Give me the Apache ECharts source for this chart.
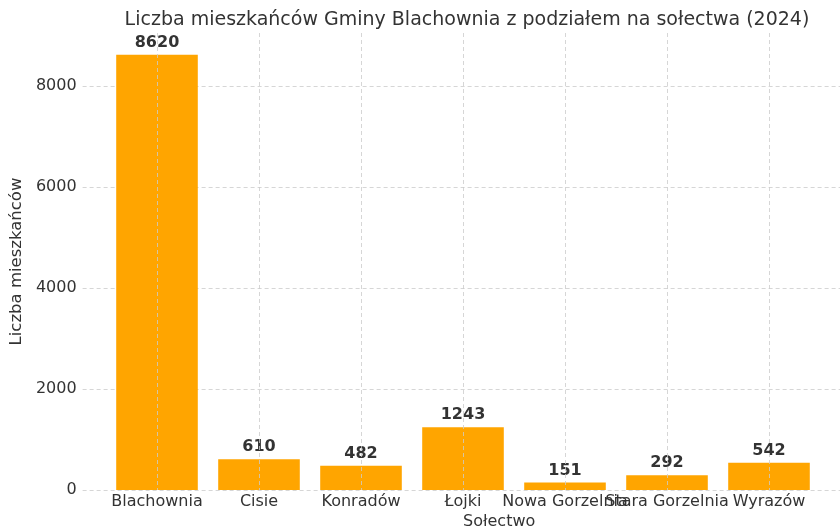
<!DOCTYPE html>
<html>
<head>
<meta charset="utf-8">
<script src="https://cdn.jsdelivr.net/npm/echarts@6/dist/echarts.min.js"></script>
<style>
  html, body { margin: 0; padding: 0; background: #fff; }
  #chart { width: 840px; height: 532px; }
</style>
</head>
<body>
<div id="chart"></div>
<script>
// dane z wykresu
const solectwa = ['Blachownia', 'Cisie', 'Konradów', 'Łojki', 'Nowa Gorzelnia', 'Stara Gorzelnia', 'Wyrazów'];
const mieszkancy = [8620, 610, 482, 1243, 151, 292, 542];
const yTicks = [0, 2000, 4000, 6000, 8000];

const barColor = '#FFA500';
const textColor = '#333333';
const gridColor = '#cccccc';
const fontFamily = 'DejaVu Sans';
const yMax = 9051;

const chart = echarts.init(document.getElementById('chart'));

const option = {
    animation: false,
    textStyle: { fontFamily: fontFamily },
    title: {
        text: 'Liczba mieszkańców Gminy Blachownia z podziałem na sołectwa (2024)',
        left: 462,
        textAlign: 'center',
        top: 6,
        textStyle: {
            fontFamily: fontFamily,
            fontSize: 19,
            fontWeight: 'normal',
            color: textColor
        }
    },
    grid: [
        // slupki
        { left: 106, right: 20, top: 33, bottom: 42 },
        // poziome linie siatki i etykiety osi Y
        { left: 81, right: 0, top: 33, bottom: 42 }
    ],
    xAxis: [
        {
            type: 'category',
            gridIndex: 0,
            data: solectwa,
            axisLine: { show: false },
            axisTick: { show: false },
            splitLine: { show: false },
            axisLabel: {
                interval: 0,
                hideOverlap: false,
                color: textColor,
                fontSize: 16,
                margin: 4
            }
        },
        {
            // pionowe linie siatki na srodku slupkow
            type: 'value',
            gridIndex: 0,
            min: -0.5,
            max: 6.5,
            splitNumber: 7,
            minInterval: 1,
            maxInterval: 1,
            z: 10,
            axisLine: { show: false },
            axisTick: { show: false },
            axisLabel: { show: false },
            splitLine: {
                show: true,
                showMinLine: false,
                showMaxLine: false,
                lineStyle: { color: gridColor, type: [4, 3], width: 0.8 }
            }
        },
        {
            type: 'value',
            gridIndex: 1,
            show: false
        }
    ],
    yAxis: [
        {
            type: 'value',
            gridIndex: 0,
            min: 0,
            max: yMax,
            show: false,
            splitLine: { show: false }
        },
        {
            type: 'value',
            gridIndex: 1,
            min: 0,
            max: yMax,
            interval: 2000,
            name: 'Liczba mieszkańców',
            nameLocation: 'middle',
            nameGap: 49,
            nameRotate: 90,
            nameTextStyle: { color: textColor, fontSize: 16.5 },
            axisLine: { show: false },
            axisTick: { show: false },
            axisLabel: {
                color: textColor,
                fontSize: 16,
                margin: 6,
                formatter: v => (yTicks.indexOf(v) >= 0 ? String(v) : '')
            },
            splitLine: {
                show: true,
                showMaxLine: false,
                lineStyle: { color: gridColor, type: [4, 3], width: 0.8 }
            }
        }
    ],
    graphic: [{
        type: 'text',
        left: 463,
        top: 514,
        style: {
            text: 'Sołectwo',
            x: 0,
            fill: textColor,
            font: '16px "DejaVu Sans"',
            textAlign: 'center'
        }
    }],
    series: [{
        type: 'bar',
        xAxisIndex: 0,
        yAxisIndex: 0,
        data: mieszkancy,
        barWidth: '80%',
        itemStyle: { color: barColor },
        label: {
            show: true,
            position: 'top',
            distance: 4,
            color: textColor,
            fontSize: 16,
            fontWeight: 'bold'
        }
    }]
};

chart.setOption(option);
</script>
</body>
</html>
